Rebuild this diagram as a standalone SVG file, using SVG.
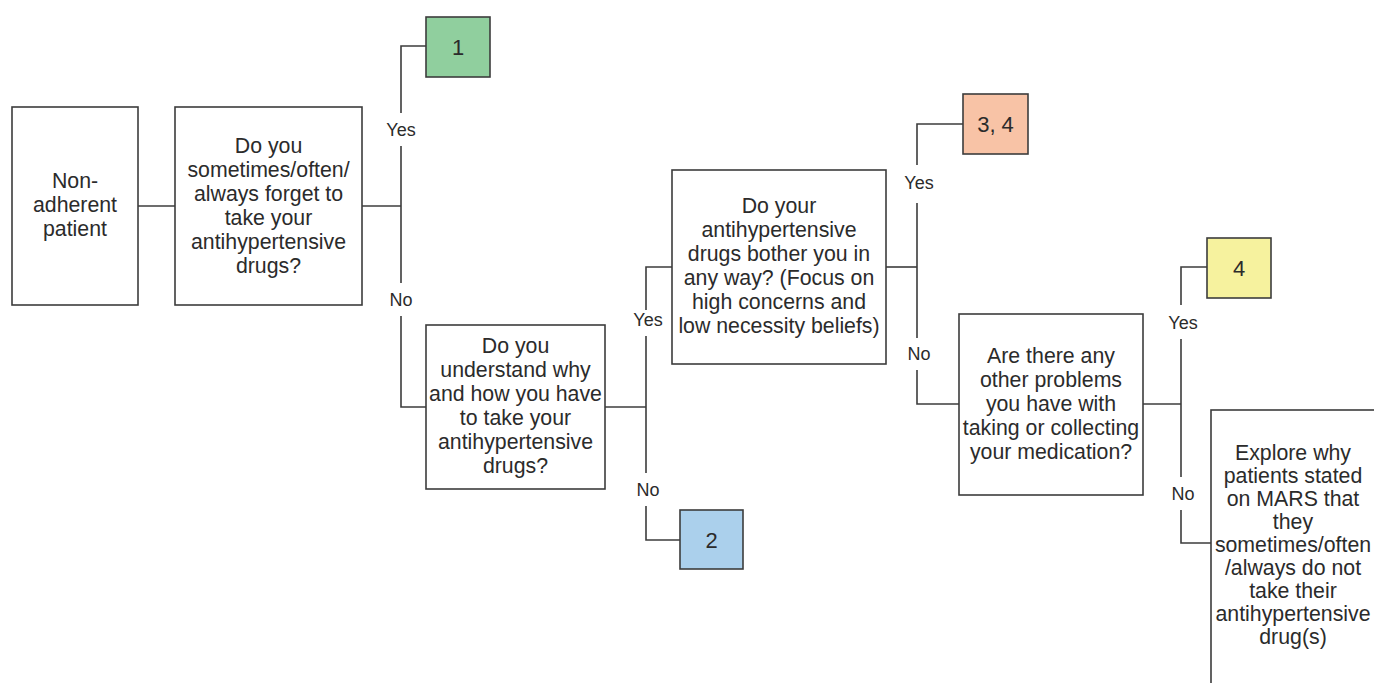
<svg xmlns="http://www.w3.org/2000/svg" width="1374" height="683" viewBox="0 0 1374 683">
<style>
.box{fill:#fff;stroke:#3c3c3c;stroke-width:1.6}
.t{font-family:"Liberation Sans",Arial,sans-serif;font-size:21.3px;fill:#2b2b2b;text-anchor:middle}
.n{font-family:"Liberation Sans",Arial,sans-serif;font-size:22px;fill:#2b2b2b;text-anchor:middle}
.lbl{font-family:"Liberation Sans",Arial,sans-serif;font-size:18px;fill:#2b2b2b;text-anchor:middle}
.c{fill:none;stroke:#3c3c3c;stroke-width:1.6}
</style>
<rect width="1374" height="683" fill="#fff"/>
<g id="connectors">
<path class="c" d="M138 206H175"/>
<path class="c" d="M362 206H401"/>
<path class="c" d="M426 46H401V113M401 146V283M401 316V407H426"/>
<path class="c" d="M605 407H646"/>
<path class="c" d="M672 267H646V310M646 336V473M646 506V540H680"/>
<path class="c" d="M886 267H917"/>
<path class="c" d="M963 124H917V165M917 203V338M917 370V404H959"/>
<path class="c" d="M1143 404H1181"/>
<path class="c" d="M1207 267H1181V305M1181 339V477M1181 510V543H1211"/>
</g>
<g id="labels">
<text class="lbl" x="401" y="136">Yes</text>
<text class="lbl" x="401" y="306">No</text>
<text class="lbl" x="648" y="326">Yes</text>
<text class="lbl" x="648" y="496">No</text>
<text class="lbl" x="919" y="189">Yes</text>
<text class="lbl" x="919" y="360">No</text>
<text class="lbl" x="1183" y="329">Yes</text>
<text class="lbl" x="1183" y="500">No</text>
</g>
<g id="start">
<rect class="box" x="12" y="107" width="126" height="198"/>
<text class="t" x="75" y="188">Non-</text>
<text class="t" x="75" y="212">adherent</text>
<text class="t" x="75" y="236">patient</text>
</g>
<g id="q1">
<rect class="box" x="175" y="107" width="187" height="198"/>
<text class="t" x="268.5" y="153">Do you</text>
<text class="t" x="268.5" y="177">sometimes/often/</text>
<text class="t" x="268.5" y="201">always forget to</text>
<text class="t" x="268.5" y="225">take your</text>
<text class="t" x="268.5" y="249">antihypertensive</text>
<text class="t" x="268.5" y="273">drugs?</text>
</g>
<g id="r1">
<rect class="box" x="426" y="17" width="64" height="60" style="fill:#90cf9e"/>
<text class="n" x="458" y="55">1</text>
</g>
<g id="q2">
<rect class="box" x="426" y="325" width="179" height="164"/>
<text class="t" x="515.5" y="353">Do you</text>
<text class="t" x="515.5" y="377">understand why</text>
<text class="t" x="515.5" y="401">and how you have</text>
<text class="t" x="515.5" y="425">to take your</text>
<text class="t" x="515.5" y="449">antihypertensive</text>
<text class="t" x="515.5" y="473">drugs?</text>
</g>
<g id="r2">
<rect class="box" x="680" y="510" width="63" height="59" style="fill:#abd0ec"/>
<text class="n" x="711.5" y="548">2</text>
</g>
<g id="q3">
<rect class="box" x="672" y="170" width="214" height="194"/>
<text class="t" x="779" y="213">Do your</text>
<text class="t" x="779" y="237">antihypertensive</text>
<text class="t" x="779" y="261">drugs bother you in</text>
<text class="t" x="779" y="285">any way? (Focus on</text>
<text class="t" x="779" y="309">high concerns and</text>
<text class="t" x="779" y="333">low necessity beliefs)</text>
</g>
<g id="r34">
<rect class="box" x="963" y="94" width="65" height="60" style="fill:#f8c3a6"/>
<text class="n" x="995.5" y="132">3, 4</text>
</g>
<g id="q4">
<rect class="box" x="959" y="314" width="184" height="181"/>
<text class="t" x="1051" y="363">Are there any</text>
<text class="t" x="1051" y="387">other problems</text>
<text class="t" x="1051" y="411">you have with</text>
<text class="t" x="1051" y="435">taking or collecting</text>
<text class="t" x="1051" y="459">your medication?</text>
</g>
<g id="r4">
<rect class="box" x="1207" y="238" width="64" height="60" style="fill:#f6f29e"/>
<text class="n" x="1239" y="276">4</text>
</g>
<g id="explore">
<rect class="box" x="1211" y="410" width="166" height="290"/>
<text class="t" x="1293" y="460">Explore why</text>
<text class="t" x="1293" y="483">patients stated</text>
<text class="t" x="1293" y="506">on MARS that</text>
<text class="t" x="1293" y="529">they</text>
<text class="t" x="1293" y="552">sometimes/often</text>
<text class="t" x="1293" y="575">/always do not</text>
<text class="t" x="1293" y="598">take their</text>
<text class="t" x="1293" y="621">antihypertensive</text>
<text class="t" x="1293" y="644">drug(s)</text>
</g>
</svg>
